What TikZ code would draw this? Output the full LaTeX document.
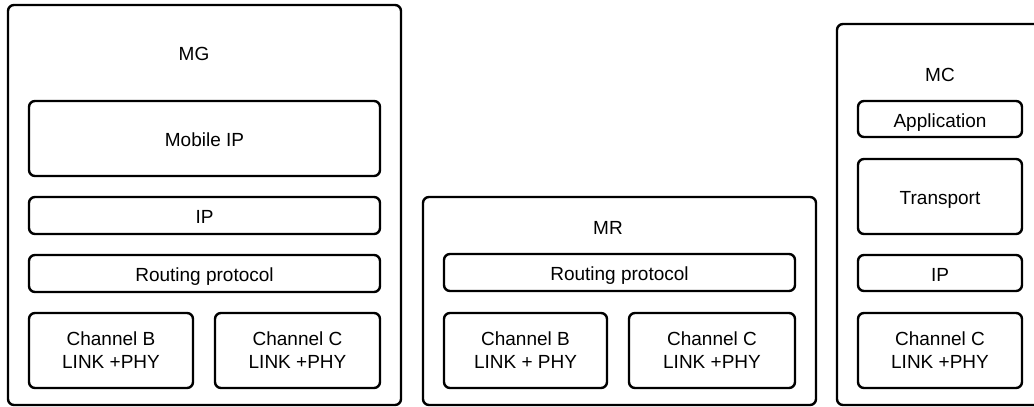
\documentclass[tikz,border=0pt]{standalone}
\usepackage{fontspec}
\setmainfont{Liberation Sans}

\begin{document}
\begin{tikzpicture}[x = 0.5pt, y = -0.5pt,
	box/.style = {draw, black, line width = 1.2pt, rounded corners = 3pt, inner sep = 0pt},
	layer/.style = {box, align = center, font = \fontsize{9.5}{11.5}\selectfont},
	single/.style = {layer, text height = 8.3pt, text depth = 0pt},
	tag/.style = {black, font = \fontsize{9.5}{11.5}\selectfont}]

	\clip (0, 0) rectangle (1034, 407); % Área visible

	% MG
	\node[box, minimum width = 196.5pt, minimum height = 200pt] (mg) at (204.5, 205) {};
	\node[tag] (mglabel) at (194, 54) {MG};
	\node[single, minimum width = 175.5pt, minimum height = 37.5pt] (mgmip) at (204.5, 138.5) {Mobile IP};
	\node[single, minimum width = 175.5pt, minimum height = 18.5pt] (mgip) at (204.5, 215.5) {IP};
	\node[single, minimum width = 175.5pt, minimum height = 18.5pt] (mgrout) at (204.5, 273.5) {Routing protocol};
	\node[layer, minimum width = 82pt, minimum height = 37.5pt] (mgchb) at (111, 350.5) {Channel B\\LINK +PHY};
	\node[layer, minimum width = 82.5pt, minimum height = 37.5pt] (mgchc) at (297.5, 350.5) {Channel C\\LINK +PHY};

	% MR
	\node[box, minimum width = 196.5pt, minimum height = 104pt] (mr) at (619.5, 301) {};
	\node[tag] (mrlabel) at (608, 228) {MR};
	\node[single, minimum width = 175.5pt, minimum height = 18.5pt] (mrrout) at (619.5, 272.5) {Routing protocol};
	\node[layer, minimum width = 81.5pt, minimum height = 37.5pt] (mrchb) at (525.5, 350.5) {Channel B\\LINK + PHY};
	\node[layer, minimum width = 83pt, minimum height = 37.5pt] (mrchc) at (712, 350.5) {Channel C\\LINK +PHY};

	% MC
	\node[box, minimum width = 103pt, minimum height = 190.5pt] (mc) at (940, 214.5) {};
	\node[tag] (mclabel) at (940, 75) {MC};
	\node[single, minimum width = 82pt, minimum height = 18pt] (mcapp) at (940, 119) {Application};
	\node[single, minimum width = 82pt, minimum height = 37.5pt] (mctrans) at (940, 196.5) {Transport};
	\node[single, minimum width = 82pt, minimum height = 18pt] (mcip) at (940, 273) {IP};
	\node[layer, minimum width = 82pt, minimum height = 37.5pt] (mcchc) at (940, 350.5) {Channel C\\LINK +PHY};

\end{tikzpicture}
\end{document}
